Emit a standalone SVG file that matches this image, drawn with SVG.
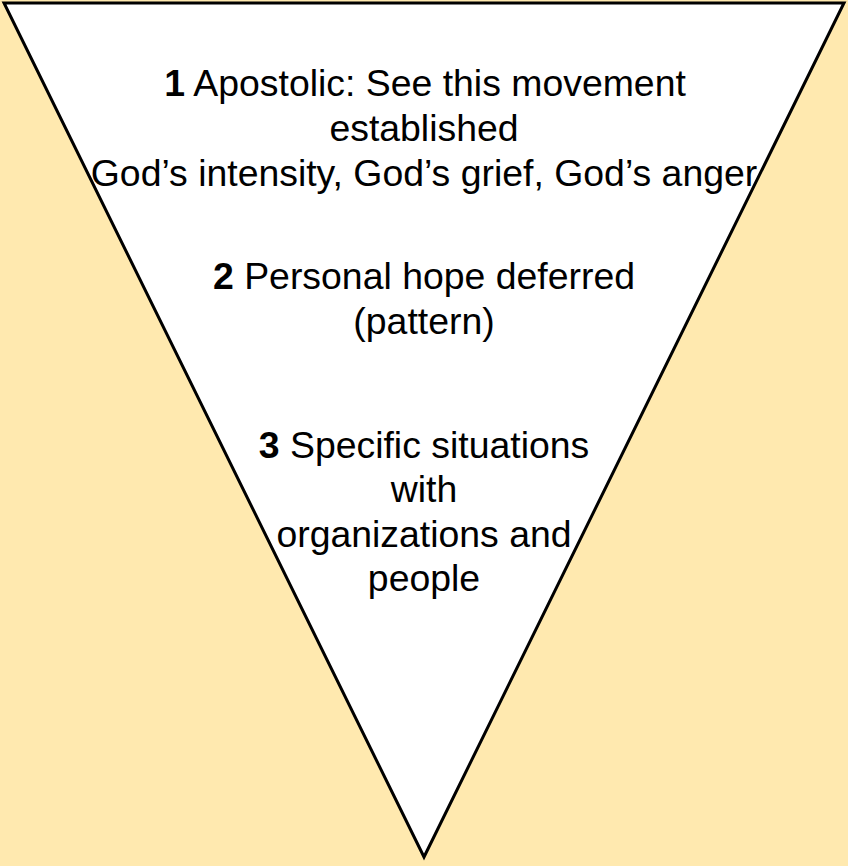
<svg xmlns="http://www.w3.org/2000/svg" width="848" height="866" viewBox="0 0 848 866">
<style>
.t{font-family:"Liberation Sans",Arial,sans-serif;font-size:37.4px;fill:#000;text-anchor:middle}
.b{font-weight:bold}
</style>
<rect x="0" y="0" width="848" height="866" fill="#FFE9AF"/>
<g id="triangle">
<polygon points="4,3 844,3 424,857" fill="#FFFFFF" stroke="#000000" stroke-width="3" stroke-linejoin="miter"/>
</g>
<g id="level1">
<text class="t" x="425" y="96"><tspan class="b">1</tspan> Apostolic: See this movement</text>
<text class="t" x="424" y="141">established</text>
<text class="t" x="424" y="186">God’s intensity, God’s grief, God’s anger</text>
</g>
<g id="level2">
<text class="t" x="424" y="289"><tspan class="b">2</tspan> Personal hope deferred</text>
<text class="t" x="424" y="334">(pattern)</text>
</g>
<g id="level3">
<text class="t" x="424" y="458"><tspan class="b">3</tspan> Specific situations</text>
<text class="t" x="424" y="502">with</text>
<text class="t" x="424" y="547">organizations and</text>
<text class="t" x="424" y="591">people</text>
</g>
<g id="connectors"/>
</svg>
